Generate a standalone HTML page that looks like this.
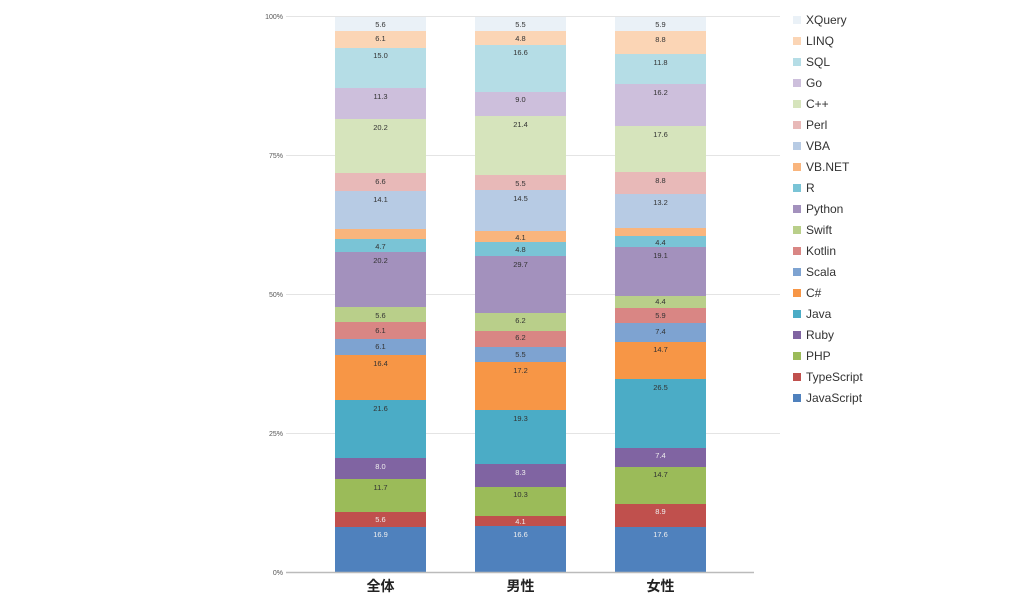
<!DOCTYPE html>
<html><head><meta charset="utf-8"><style>
html,body{margin:0;padding:0;background:#fff;}
svg{display:block;}
.v{font-family:"Liberation Sans",sans-serif;font-size:7.5px;text-anchor:middle;fill:#333;}
.w{fill:#eee;}
.ax{font-family:"Liberation Sans",sans-serif;font-size:7px;fill:#555;text-anchor:end;}
.lg{font-family:"Liberation Sans",sans-serif;font-size:12px;fill:#333;}
.cat{font-family:"Liberation Sans","Noto Sans CJK JP",sans-serif;font-size:14px;font-weight:bold;fill:#222;text-anchor:middle;}
</style></head><body>
<svg width="1024" height="598" xmlns="http://www.w3.org/2000/svg">
<g stroke="#e4e4e4" stroke-width="1">
<line x1="286" y1="16.5" x2="780" y2="16.5"/>
<line x1="286" y1="155.5" x2="780" y2="155.5"/>
<line x1="286" y1="294.5" x2="780" y2="294.5"/>
<line x1="286" y1="433.5" x2="780" y2="433.5"/>
</g>
<text class="ax" x="283" y="19">100%</text>
<text class="ax" x="283" y="158">75%</text>
<text class="ax" x="283" y="297">50%</text>
<text class="ax" x="283" y="436">25%</text>
<text class="ax" x="283" y="575">0%</text>

<!-- Bar 1 -->
<g>
<rect x="335" y="17" width="91" height="14" fill="#eaf1f7"/>
<rect x="335" y="31" width="91" height="17" fill="#fbd5b5"/>
<rect x="335" y="48" width="91" height="40" fill="#b5dde6"/>
<rect x="335" y="88" width="91" height="31" fill="#cdbfdc"/>
<rect x="335" y="119" width="91" height="54" fill="#d6e4bc"/>
<rect x="335" y="173" width="91" height="18" fill="#e8b9b8"/>
<rect x="335" y="191" width="91" height="38" fill="#b7cbe4"/>
<rect x="335" y="229" width="91" height="10" fill="#f9b57d"/>
<rect x="335" y="239" width="91" height="13" fill="#7ac4d6"/>
<rect x="335" y="252" width="91" height="55" fill="#a391bd"/>
<rect x="335" y="307" width="91" height="15" fill="#b9cf8a"/>
<rect x="335" y="322" width="91" height="17" fill="#d98684"/>
<rect x="335" y="339" width="91" height="16" fill="#7ea3d1"/>
<rect x="335" y="355" width="91" height="45" fill="#f79646"/>
<rect x="335" y="400" width="91" height="58" fill="#4bacc6"/>
<rect x="335" y="458" width="91" height="21" fill="#8064a2"/>
<rect x="335" y="479" width="91" height="33" fill="#9bbb59"/>
<rect x="335" y="512" width="91" height="15" fill="#c0504d"/>
<rect x="335" y="527" width="91" height="46" fill="#4f81bd"/>
<text class="v" x="380.5" y="27">5.6</text>
<text class="v" x="380.5" y="41">6.1</text>
<text class="v" x="380.5" y="58">15.0</text>
<text class="v" x="380.5" y="99">11.3</text>
<text class="v" x="380.5" y="130">20.2</text>
<text class="v" x="380.5" y="184">6.6</text>
<text class="v" x="380.5" y="202">14.1</text>
<text class="v" x="380.5" y="249">4.7</text>
<text class="v" x="380.5" y="263">20.2</text>
<text class="v" x="380.5" y="318">5.6</text>
<text class="v" x="380.5" y="333">6.1</text>
<text class="v" x="380.5" y="349">6.1</text>
<text class="v" x="380.5" y="366">16.4</text>
<text class="v" x="380.5" y="411">21.6</text>
<text class="v w" x="380.5" y="469">8.0</text>
<text class="v" x="380.5" y="490">11.7</text>
<text class="v w" x="380.5" y="522">5.6</text>
<text class="v w" x="380.5" y="537">16.9</text>
</g>

<!-- Bar 2 -->
<g>
<rect x="475" y="17" width="91" height="14" fill="#eaf1f7"/>
<rect x="475" y="31" width="91" height="14" fill="#fbd5b5"/>
<rect x="475" y="45" width="91" height="47" fill="#b5dde6"/>
<rect x="475" y="92" width="91" height="24" fill="#cdbfdc"/>
<rect x="475" y="116" width="91" height="59" fill="#d6e4bc"/>
<rect x="475" y="175" width="91" height="15" fill="#e8b9b8"/>
<rect x="475" y="190" width="91" height="41" fill="#b7cbe4"/>
<rect x="475" y="231" width="91" height="11" fill="#f9b57d"/>
<rect x="475" y="242" width="91" height="14" fill="#7ac4d6"/>
<rect x="475" y="256" width="91" height="57" fill="#a391bd"/>
<rect x="475" y="313" width="91" height="18" fill="#b9cf8a"/>
<rect x="475" y="331" width="91" height="16" fill="#d98684"/>
<rect x="475" y="347" width="91" height="15" fill="#7ea3d1"/>
<rect x="475" y="362" width="91" height="48" fill="#f79646"/>
<rect x="475" y="410" width="91" height="54" fill="#4bacc6"/>
<rect x="475" y="464" width="91" height="23" fill="#8064a2"/>
<rect x="475" y="487" width="91" height="29" fill="#9bbb59"/>
<rect x="475" y="516" width="91" height="10" fill="#c0504d"/>
<rect x="475" y="526" width="91" height="47" fill="#4f81bd"/>
<text class="v" x="520.5" y="27">5.5</text>
<text class="v" x="520.5" y="41">4.8</text>
<text class="v" x="520.5" y="55">16.6</text>
<text class="v" x="520.5" y="102">9.0</text>
<text class="v" x="520.5" y="127">21.4</text>
<text class="v" x="520.5" y="186">5.5</text>
<text class="v" x="520.5" y="201">14.5</text>
<text class="v" x="520.5" y="240">4.1</text>
<text class="v" x="520.5" y="252">4.8</text>
<text class="v" x="520.5" y="267">29.7</text>
<text class="v" x="520.5" y="323">6.2</text>
<text class="v" x="520.5" y="340">6.2</text>
<text class="v" x="520.5" y="357">5.5</text>
<text class="v" x="520.5" y="373">17.2</text>
<text class="v" x="520.5" y="421">19.3</text>
<text class="v w" x="520.5" y="475">8.3</text>
<text class="v" x="520.5" y="497">10.3</text>
<text class="v w" x="520.5" y="524">4.1</text>
<text class="v w" x="520.5" y="537">16.6</text>
</g>

<!-- Bar 3 -->
<g>
<rect x="615" y="17" width="91" height="14" fill="#eaf1f7"/>
<rect x="615" y="31" width="91" height="23" fill="#fbd5b5"/>
<rect x="615" y="54" width="91" height="30" fill="#b5dde6"/>
<rect x="615" y="84" width="91" height="42" fill="#cdbfdc"/>
<rect x="615" y="126" width="91" height="46" fill="#d6e4bc"/>
<rect x="615" y="172" width="91" height="22" fill="#e8b9b8"/>
<rect x="615" y="194" width="91" height="34" fill="#b7cbe4"/>
<rect x="615" y="228" width="91" height="8" fill="#f9b57d"/>
<rect x="615" y="236" width="91" height="11" fill="#7ac4d6"/>
<rect x="615" y="247" width="91" height="49" fill="#a391bd"/>
<rect x="615" y="296" width="91" height="12" fill="#b9cf8a"/>
<rect x="615" y="308" width="91" height="15" fill="#d98684"/>
<rect x="615" y="323" width="91" height="19" fill="#7ea3d1"/>
<rect x="615" y="342" width="91" height="37" fill="#f79646"/>
<rect x="615" y="379" width="91" height="69" fill="#4bacc6"/>
<rect x="615" y="448" width="91" height="19" fill="#8064a2"/>
<rect x="615" y="467" width="91" height="37" fill="#9bbb59"/>
<rect x="615" y="504" width="91" height="23" fill="#c0504d"/>
<rect x="615" y="527" width="91" height="46" fill="#4f81bd"/>
<text class="v" x="660.5" y="27">5.9</text>
<text class="v" x="660.5" y="42">8.8</text>
<text class="v" x="660.5" y="65">11.8</text>
<text class="v" x="660.5" y="95">16.2</text>
<text class="v" x="660.5" y="137">17.6</text>
<text class="v" x="660.5" y="183">8.8</text>
<text class="v" x="660.5" y="205">13.2</text>
<text class="v" x="660.5" y="245">4.4</text>
<text class="v" x="660.5" y="258">19.1</text>
<text class="v" x="660.5" y="304">4.4</text>
<text class="v" x="660.5" y="318">5.9</text>
<text class="v" x="660.5" y="334">7.4</text>
<text class="v" x="660.5" y="352">14.7</text>
<text class="v" x="660.5" y="390">26.5</text>
<text class="v w" x="660.5" y="458">7.4</text>
<text class="v" x="660.5" y="477">14.7</text>
<text class="v w" x="660.5" y="514">8.9</text>
<text class="v w" x="660.5" y="537">17.6</text>
</g>

<line x1="286" y1="572.5" x2="754" y2="572.5" stroke="#bbb" stroke-width="1.5"/>
<text class="cat" x="380.5" y="591">全体</text>
<text class="cat" x="520.5" y="591">男性</text>
<text class="cat" x="660.5" y="591">女性</text>

<!-- Legend -->
<g>
<rect x="793" y="16" width="8" height="8" fill="#eaf1f7"/><text class="lg" x="806" y="24">XQuery</text>
<rect x="793" y="37" width="8" height="8" fill="#fbd5b5"/><text class="lg" x="806" y="45">LINQ</text>
<rect x="793" y="58" width="8" height="8" fill="#b5dde6"/><text class="lg" x="806" y="66">SQL</text>
<rect x="793" y="79" width="8" height="8" fill="#cdbfdc"/><text class="lg" x="806" y="87">Go</text>
<rect x="793" y="100" width="8" height="8" fill="#d6e4bc"/><text class="lg" x="806" y="108">C++</text>
<rect x="793" y="121" width="8" height="8" fill="#e8b9b8"/><text class="lg" x="806" y="129">Perl</text>
<rect x="793" y="142" width="8" height="8" fill="#b7cbe4"/><text class="lg" x="806" y="150">VBA</text>
<rect x="793" y="163" width="8" height="8" fill="#f9b57d"/><text class="lg" x="806" y="171">VB.NET</text>
<rect x="793" y="184" width="8" height="8" fill="#7ac4d6"/><text class="lg" x="806" y="192">R</text>
<rect x="793" y="205" width="8" height="8" fill="#a391bd"/><text class="lg" x="806" y="213">Python</text>
<rect x="793" y="226" width="8" height="8" fill="#b9cf8a"/><text class="lg" x="806" y="234">Swift</text>
<rect x="793" y="247" width="8" height="8" fill="#d98684"/><text class="lg" x="806" y="255">Kotlin</text>
<rect x="793" y="268" width="8" height="8" fill="#7ea3d1"/><text class="lg" x="806" y="276">Scala</text>
<rect x="793" y="289" width="8" height="8" fill="#f79646"/><text class="lg" x="806" y="297">C#</text>
<rect x="793" y="310" width="8" height="8" fill="#4bacc6"/><text class="lg" x="806" y="318">Java</text>
<rect x="793" y="331" width="8" height="8" fill="#8064a2"/><text class="lg" x="806" y="339">Ruby</text>
<rect x="793" y="352" width="8" height="8" fill="#9bbb59"/><text class="lg" x="806" y="360">PHP</text>
<rect x="793" y="373" width="8" height="8" fill="#c0504d"/><text class="lg" x="806" y="381">TypeScript</text>
<rect x="793" y="394" width="8" height="8" fill="#4f81bd"/><text class="lg" x="806" y="402">JavaScript</text>
</g>
</svg>
</body></html>
